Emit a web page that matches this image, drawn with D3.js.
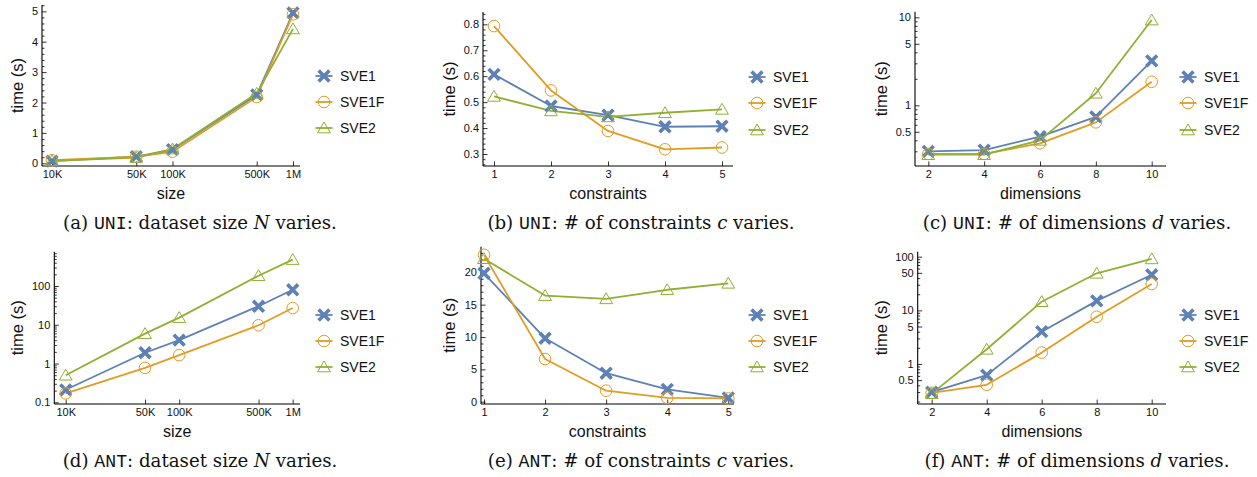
<!DOCTYPE html>
<html><head><meta charset="utf-8">
<script src="https://cdn.jsdelivr.net/npm/d3@7"></script>
<style>body{margin:0;background:#fff} svg{display:block}</style>
</head><body>
<svg id="c" width="1257" height="477"></svg>
<script>
// ---------- data ----------
const seriesNames = ["SVE1", "SVE1F", "SVE2"];
const sizeValues = [1e4, 5e4, 1e5, 5e5, 1e6];
const sizeLabels = ["10K", "50K", "100K", "500K", "1M"];
const constraintValues = [1, 2, 3, 4, 5];
const constraintLabels = ["1", "2", "3", "4", "5"];
const dimensionValues = [2, 4, 6, 8, 10];
const dimensionLabels = ["2", "4", "6", "8", "10"];

// (a) UNI, size
const uniSizeSVE1  = [0.07, 0.22, 0.45, 2.25, 4.95];
const uniSizeSVE1F = [0.10, 0.22, 0.38, 2.18, 4.90];
const uniSizeSVE2  = [0.08, 0.19, 0.47, 2.30, 4.42];
// (b) UNI, constraints
const uniConsSVE1  = [0.607, 0.485, 0.450, 0.405, 0.407];
const uniConsSVE1F = [0.793, 0.545, 0.389, 0.318, 0.325];
const uniConsSVE2  = [0.522, 0.466, 0.443, 0.459, 0.472];
// (c) UNI, dimensions
const uniDimSVE1  = [0.30, 0.31, 0.44, 0.74, 3.2];
const uniDimSVE1F = [0.28, 0.28, 0.37, 0.64, 1.85];
const uniDimSVE2  = [0.275, 0.275, 0.40, 1.37, 9.3];
// (d) ANT, size
const antSizeSVE1  = [0.21, 1.9, 4.0, 30, 80];
const antSizeSVE1F = [0.17, 0.77, 1.65, 9.7, 27];
const antSizeSVE2  = [0.5, 5.9, 15.3, 184, 480];
// (e) ANT, constraints
const antConsSVE1  = [19.85, 9.8, 4.4, 1.9, 0.6];
const antConsSVE1F = [22.7, 6.6, 1.7, 0.6, 0.5];
const antConsSVE2  = [22.1, 16.4, 15.9, 17.3, 18.3];
// (f) ANT, dimensions
const antDimSVE1  = [0.30, 0.62, 4.0, 15, 46];
const antDimSVE1F = [0.29, 0.41, 1.63, 7.6, 31];
const antDimSVE2  = [0.28, 1.88, 14.5, 49, 91];

// tick labels
const ticksA = [0, 1, 2, 3, 4, 5];
const ticksB = [0.3, 0.4, 0.5, 0.6, 0.7, 0.8];
const ticksC = [0.5, 1, 5, 10];
const ticksD = [0.1, 1, 10, 100];
const ticksE = [0, 5, 10, 15, 20];
const ticksF = [0.5, 1, 5, 10, 50, 100];

const captionA = [["(a) ","r"],["UNI","m"],[": dataset size ","r"],["N","i"],[" varies.","r"]];
const captionB = [["(b) ","r"],["UNI","m"],[": # of constraints ","r"],["c","i"],[" varies.","r"]];
const captionC = [["(c) ","r"],["UNI","m"],[": # of dimensions ","r"],["d","i"],[" varies.","r"]];
const captionD = [["(d) ","r"],["ANT","m"],[": dataset size ","r"],["N","i"],[" varies.","r"]];
const captionE = [["(e) ","r"],["ANT","m"],[": # of constraints ","r"],["c","i"],[" varies.","r"]];
const captionF = [["(f) ","r"],["ANT","m"],[": # of dimensions ","r"],["d","i"],[" varies.","r"]];

// ---------- style ----------
const colors = ["#5E81B5", "#E19C24", "#8FB032"];
const SANS = '"Liberation Sans", Arial, sans-serif';
const SERIF = '"DejaVu Serif", serif';
const MONO = '"Liberation Mono", "DejaVu Sans Mono", monospace';

const panels = [
  { cats: sizeValues, catLabels: sizeLabels, xType: "log", yType: "linear",
    series: [uniSizeSVE1, uniSizeSVE1F, uniSizeSVE2], yTicks: ticksA, minorStep: 0.2,
    xTitle: "size", caption: captionA,
    L: { axisX: 42, right: 300, axisY: 166, top: 5, xDom: [1e4, 1e6], xPx: [52, 293],
         yDom: [0, 5], yPx: [163.3, 11.3], legX: 324, legY: [76, 102, 128], titleX: 23, capX: 200, capY: 229 } },
  { cats: constraintValues, catLabels: constraintLabels, xType: "linear", yType: "linear",
    series: [uniConsSVE1, uniConsSVE1F, uniConsSVE2], yTicks: ticksB, minorStep: 0.02,
    xTitle: "constraints", caption: captionB,
    L: { axisX: 483, right: 733, axisY: 166, top: 12, xDom: [1, 5], xPx: [494, 722],
         yDom: [0.3, 0.8], yPx: [154, 24.3], legX: 757, legY: [77, 103, 130], titleX: 455, capX: 641, capY: 229 } },
  { cats: dimensionValues, catLabels: dimensionLabels, xType: "linear", yType: "log",
    series: [uniDimSVE1, uniDimSVE1F, uniDimSVE2], yTicks: ticksC,
    xTitle: "dimensions", caption: captionC,
    L: { axisX: 915, right: 1166, axisY: 166, top: 11.7, xDom: [2, 10], xPx: [928.3, 1151.7],
         yDom: [1, 10], yPx: [105.3, 17.3], legX: 1188, legY: [77, 103, 130], titleX: 887, capX: 1077, capY: 229 } },
  { cats: sizeValues, catLabels: sizeLabels, xType: "log", yType: "log",
    series: [antSizeSVE1, antSizeSVE1F, antSizeSVE2], yTicks: ticksD,
    xTitle: "size", caption: captionD,
    L: { axisX: 54.3, right: 300, axisY: 404, top: 251.7, xDom: [1e4, 1e6], xPx: [65.7, 292.7],
         yDom: [0.1, 100], yPx: [402.3, 286], legX: 324, legY: [315, 341, 367], titleX: 23, capX: 200, capY: 467 } },
  { cats: constraintValues, catLabels: constraintLabels, xType: "linear", yType: "linear",
    series: [antConsSVE1, antConsSVE1F, antConsSVE2], yTicks: ticksE, minorStep: 1,
    xTitle: "constraints", caption: captionE,
    L: { axisX: 481, right: 734, axisY: 404, top: 246.7, xDom: [1, 5], xPx: [484, 728.3],
         yDom: [0, 20], yPx: [401.7, 272.3], legX: 757, legY: [315, 341, 367], titleX: 455, capX: 641, capY: 467 } },
  { cats: dimensionValues, catLabels: dimensionLabels, xType: "linear", yType: "log",
    series: [antDimSVE1, antDimSVE1F, antDimSVE2], yTicks: ticksF,
    xTitle: "dimensions", caption: captionF,
    L: { axisX: 917.7, right: 1166, axisY: 404, top: 251.7, xDom: [2, 10], xPx: [931.7, 1151.7],
         yDom: [1, 100], yPx: [364, 256.7], legX: 1188, legY: [315, 341, 367], titleX: 887, capX: 1077, capY: 467 } }
];

const svg = d3.select("#c");

function drawMarker(g, k, x, y) {
  const c = colors[k];
  if (k === 0) {
    const s = 5.4;
    g.append("path").attr("d", `M${x-s},${y-s}L${x+s},${y+s}M${x-s},${y+s}L${x+s},${y-s}`)
      .attr("stroke", c).attr("stroke-width", 3.6).attr("fill", "none");
  } else if (k === 1) {
    g.append("circle").attr("cx", x).attr("cy", y).attr("r", 5.8)
      .attr("fill", "none").attr("stroke", c).attr("stroke-width", 1);
  } else {
    g.append("path").attr("d", `M${x},${y-6}L${x+6.4},${y+4.8}L${x-6.4},${y+4.8}Z`)
      .attr("fill", "none").attr("stroke", c).attr("stroke-width", 1);
  }
}

panels.forEach(p => {
  const L = p.L;
  const xs = (p.xType === "log" ? d3.scaleLog() : d3.scaleLinear()).domain(L.xDom).range(L.xPx);
  const ys = (p.yType === "log" ? d3.scaleLog() : d3.scaleLinear()).domain(L.yDom).range(L.yPx);
  const g = svg.append("g");

  // minor y ticks
  const vLo = ys.invert(L.axisY), vHi = ys.invert(L.top);
  let minor = [];
  if (p.yType === "log") {
    for (let d = Math.floor(Math.log10(vLo)) - 1; d <= Math.ceil(Math.log10(vHi)); d++) {
      for (let m = 1; m <= 9; m++) {
        const v = m * Math.pow(10, d);
        if (v >= vLo && v <= vHi) minor.push(v);
      }
    }
  } else {
    const st = p.minorStep;
    for (let i = Math.ceil(vLo / st - 1e-9); i * st <= vHi + 1e-9; i++) minor.push(+(i * st).toFixed(6));
  }
  minor = minor.filter(v => !p.yTicks.some(t => Math.abs(t - v) < 1e-9));

  const yMinor = g.append("g").attr("transform", `translate(${L.axisX},0)`)
    .call(d3.axisLeft(ys).tickValues(minor).tickFormat("").tickSizeInner(-2.5).tickSizeOuter(0));
  yMinor.select(".domain").remove();
  yMinor.selectAll("line").attr("stroke", "#000").attr("stroke-width", 0.8);

  const yAx = g.append("g").attr("transform", `translate(${L.axisX},0)`)
    .call(d3.axisLeft(ys).tickValues(p.yTicks).tickFormat(d => String(d)).tickSizeInner(-4.5).tickSizeOuter(0).tickPadding(4));
  yAx.select(".domain").remove();
  yAx.selectAll("line").attr("stroke", "#000").attr("stroke-width", 0.8);
  yAx.selectAll("text").attr("font-family", SANS).attr("font-size", 11).attr("fill", "#111");

  const xAx = g.append("g").attr("transform", `translate(0,${L.axisY})`)
    .call(d3.axisBottom(xs).tickValues(p.cats).tickFormat((d, i) => p.catLabels[i]).tickSizeInner(-4.5).tickSizeOuter(0).tickPadding(4.3));
  xAx.select(".domain").remove();
  xAx.selectAll("line").attr("stroke", "#000").attr("stroke-width", 0.8);
  xAx.selectAll("text").attr("font-family", SANS).attr("font-size", 11).attr("fill", "#111");

  // axis lines
  g.append("line").attr("x1", L.axisX).attr("x2", L.right).attr("y1", L.axisY).attr("y2", L.axisY)
    .attr("stroke", "#000").attr("stroke-width", 1.1);
  g.append("line").attr("x1", L.axisX).attr("x2", L.axisX).attr("y1", L.axisY).attr("y2", L.top)
    .attr("stroke", "#000").attr("stroke-width", 1.1);

  // titles
  g.append("text").attr("x", (L.axisX + L.right) / 2).attr("y", L.axisY + 33)
    .attr("text-anchor", "middle").attr("font-family", SANS).attr("font-size", 16).attr("fill", "#111")
    .text(p.xTitle);
  const cy = (L.axisY + L.top) / 2;
  g.append("text").attr("transform", `translate(${L.titleX},${cy}) rotate(-90)`)
    .attr("text-anchor", "middle").attr("font-family", SANS).attr("font-size", 16.5).attr("fill", "#111")
    .text("time (s)");

  // lines
  const line = d3.line().x((d, i) => xs(p.cats[i])).y(d => ys(d));
  p.series.forEach((s, k) => {
    g.append("path").datum(s).attr("d", line).attr("fill", "none")
      .attr("stroke", colors[k]).attr("stroke-width", 1.8).attr("stroke-linejoin", "round");
  });
  p.series.forEach((s, k) => {
    s.forEach((v, i) => drawMarker(g, k, xs(p.cats[i]), ys(v)));
  });

  // legend
  seriesNames.forEach((name, k) => {
    const lx = L.legX, ly = L.legY[k];
    g.append("line").attr("x1", lx - 8.5).attr("x2", lx + 8.5).attr("y1", ly).attr("y2", ly)
      .attr("stroke", colors[k]).attr("stroke-width", 1.8);
    drawMarker(g, k, lx, ly);
    g.append("text").attr("x", lx + 16).attr("y", ly).attr("dy", "0.36em")
      .attr("font-family", SANS).attr("font-size", 14).attr("fill", "#111").text(name);
  });

  // caption
  const cap = svg.append("text").attr("x", L.capX).attr("y", L.capY).attr("text-anchor", "middle")
    .attr("font-size", 16).attr("fill", "#111").attr("class", "cap");
  p.caption.forEach(([t, f]) => {
    const ts = cap.append("tspan").text(t)
      .attr("font-family", f === "m" ? MONO : SERIF);
    if (f === "i") ts.attr("font-style", "italic");
  });
});

// fit caption size so that caption (a) spans ~274px as in the figure
const caps = svg.selectAll("text.cap");
const w0 = caps.node().getComputedTextLength();
const fs = 16 * 274 / w0;
caps.attr("font-size", fs.toFixed(2));
</script>
</body></html>
